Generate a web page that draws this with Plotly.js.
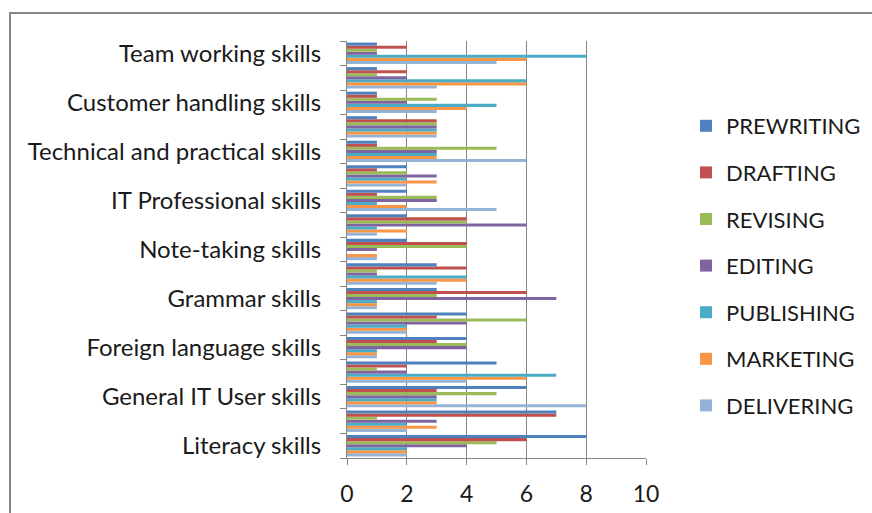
<!DOCTYPE html>
<html>
<head>
<meta charset="utf-8">
<script src="https://cdn.plot.ly/plotly-3.0.1.min.js"></script>
<style>
  html, body { margin: 0; padding: 0; background: #ffffff; }
  #chart { width: 872px; height: 513px; }
</style>
</head>
<body>
<div id="chart"></div>
<script>
// Categories from bottom to top; Excel only labelled every second category.
const categories = [
  "Literacy skills", "",
  "General IT User skills", "",
  "Foreign language skills", "",
  "Grammar skills", "",
  "Note-taking skills", "",
  "IT Professional skills", "",
  "Technical and practical skills", "",
  "Customer handling skills", "",
  "Team working skills"
];

const seriesNames = ["PREWRITING", "DRAFTING", "REVISING", "EDITING", "PUBLISHING", "MARKETING", "DELIVERING"];
const seriesColors = ["#4F81BD", "#C0504D", "#9BBB59", "#8064A2", "#4BACC6", "#F79646", "#95B3D7"];

// Values per series, bottom category first
const prewriting = [8, 7, 6, 5, 4, 4, 3, 3, 2, 2, 2, 2, 1, 1, 1, 1, 1];
const drafting   = [6, 7, 3, 2, 3, 3, 6, 4, 4, 4, 1, 1, 1, 3, 1, 2, 2];
const revising   = [5, 1, 5, 1, 4, 6, 3, 1, 4, 4, 3, 2, 5, 3, 3, 1, 1];
const editing    = [4, 3, 3, 2, 4, 4, 7, 1, 1, 6, 3, 3, 3, 3, 2, 2, 1];
const publishing = [2, 2, 3, 7, 1, 2, 1, 4, 0, 1, 1, 2, 3, 3, 5, 6, 8];
const marketing  = [2, 3, 3, 6, 1, 2, 1, 4, 1, 2, 2, 3, 3, 3, 4, 6, 6];
const delivering = [2, 2, 8, 4, 1, 2, 1, 3, 1, 1, 5, 2, 6, 3, 3, 3, 5];

const xTicks = [0, 2, 4, 6, 8, 10];

const seriesValues = [prewriting, drafting, revising, editing, publishing, marketing, delivering];
const positions = categories.map((c, i) => i);
const labelledPositions = positions.filter(i => categories[i] !== "");
const labelledText = labelledPositions.map(i => categories[i]);

const FONT = "Lato, 'Open Sans', sans-serif";
const TEXT = "#1a1a1a";
const GRID = "#868686";

// Added in reverse so the first series sits at the top of each cluster
const traces = [];
for (let s = seriesNames.length - 1; s >= 0; s--) {
  traces.push({
    type: "bar",
    orientation: "h",
    name: seriesNames[s],
    legendgroup: seriesNames[s],
    legendrank: s + 1,
    x: seriesValues[s],
    y: positions,
    marker: { color: seriesColors[s], line: { width: 0 } },
    hoverinfo: "x+name"
  });
}

const W = 872, H = 513;
const mL = 347, mR = 226, mT = 41, mB = 55;
const pw = W - mL - mR, ph = H - mT - mB;
const px = v => (v - mL) / pw;
const py = v => (H - mB - v) / ph;

const layout = {
  width: W, height: H,
  margin: { l: mL, r: mR, t: mT, b: mB, pad: 0, autoexpand: false },
  paper_bgcolor: "#ffffff",
  plot_bgcolor: "#ffffff",
  barmode: "group",
  bargap: 0.13,
  bargroupgap: 0,
  font: { family: FONT, color: TEXT, size: 24 },
  showlegend: true,
  legend: {
    x: px(686), y: py(105), xanchor: "left", yanchor: "top",
    traceorder: "grouped",
    tracegroupgap: 15,
    font: { family: FONT, size: 22, color: TEXT },
    bgcolor: "rgba(0,0,0,0)",
    itemclick: false, itemdoubleclick: false
  },
  xaxis: {
    range: [0, 10],
    tickvals: xTicks,
    ticktext: xTicks.map(String),
    showgrid: true, gridcolor: GRID, gridwidth: 1,
    zeroline: false,
    showline: true, linecolor: GRID, linewidth: 1,
    ticks: "outside", ticklen: 6, tickcolor: GRID,
    ticklabelstandoff: 9,
    tickfont: { family: FONT, size: 23, color: TEXT },
    automargin: false,
    fixedrange: true
  },
  yaxis: {
    range: [-0.5, categories.length - 0.5],
    tickmode: "array",
    tickvals: labelledPositions,
    ticktext: labelledText,
    ticks: "",
    showgrid: false,
    zeroline: false,
    showline: true, linecolor: GRID, linewidth: 1,
    ticklabelstandoff: 20,
    tickfont: { family: FONT, size: 24, color: TEXT },
    minor: { tick0: -0.5, dtick: 1, ticks: "outside", ticklen: 6, tickcolor: GRID, showgrid: false },
    automargin: false,
    fixedrange: true
  },
  shapes: [{
    type: "rect", xref: "paper", yref: "paper",
    x0: px(10), x1: px(890), y0: py(530), y1: py(13),
    line: { color: "#878787", width: 2 }, fillcolor: "rgba(0,0,0,0)", layer: "below"
  }]
};

Plotly.newPlot("chart", traces, layout, { displayModeBar: false, staticPlot: false });
</script>
</body>
</html>
